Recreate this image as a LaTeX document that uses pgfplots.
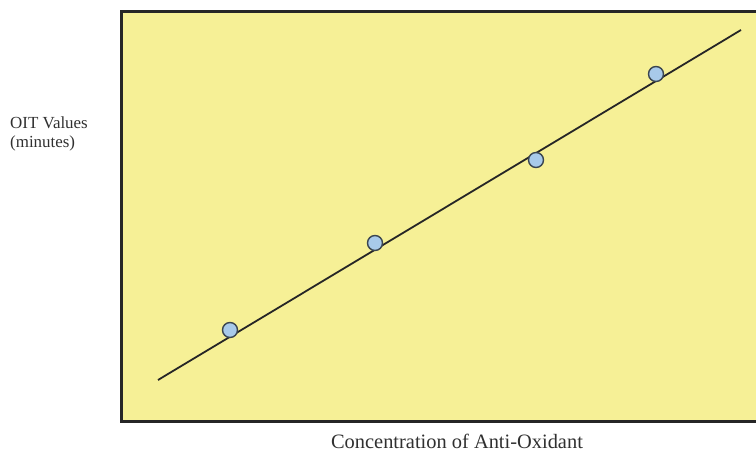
\documentclass[border=0pt]{standalone}
\usepackage{pgfplots}
\pgfplotsset{compat=1.18}
\usepackage{fontspec}
\setmainfont{Liberation Serif}
\definecolor{bgyellow}{HTML}{F6F096}
\definecolor{mkfill}{HTML}{A8CAEA}
\definecolor{mkedge}{HTML}{3A4550}
\definecolor{txtgray}{HTML}{303030}
\begin{document}
\begin{tikzpicture}[x=1bp,y=1bp]
\useasboundingbox (0,0) rectangle (756,453);
\begin{axis}[
  at={(121bp,32bp)}, anchor=south west,
  scale only axis, width=640bp, height=409bp,
  xmin=121, xmax=761, ymin=12, ymax=421,
  y dir=reverse,
  axis background/.style={fill=bgyellow},
  axis line style={line width=3bp, draw=black!85},
  ticks=none,
  clip=false,
]
\addplot[line width=1.8bp, black!85] coordinates {(158,380) (741,30)};
\addplot[only marks, mark=*, mark size=7.5bp, mark options={fill=mkfill, draw=mkedge, line width=1.4bp}]
  coordinates {(230,330) (375,243) (536,160) (656,74)};
\end{axis}
\node[anchor=base west, inner sep=0, font=\fontsize{17}{20}\selectfont, text=txtgray] at (10,324) {OIT Values};
\node[anchor=base west, inner sep=0, font=\fontsize{17}{20}\selectfont, text=txtgray] at (10,305) {(minutes)};
\node[anchor=base, inner sep=0, font=\fontsize{20.5}{24}\selectfont, text=txtgray] at (457,4) {Concentration of Anti-Oxidant};
\end{tikzpicture}
\end{document}
